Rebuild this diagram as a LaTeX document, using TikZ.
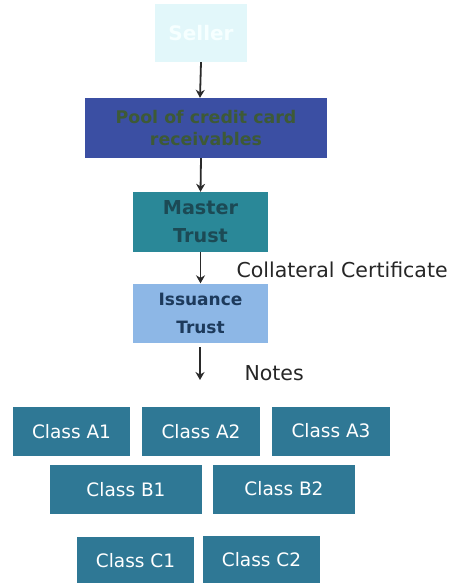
\documentclass[tikz,border=0pt]{standalone}
\usepackage{fontspec}
\setmainfont{DejaVu Sans}
\usetikzlibrary{arrows.meta}
\definecolor{sellerfill}{HTML}{E2F7FA}
\definecolor{sellertext}{HTML}{F6FFFF}
\definecolor{poolfill}{HTML}{3B4FA3}
\definecolor{pooltext}{HTML}{3E5A36}
\definecolor{masterfill}{HTML}{2A8898}
\definecolor{mastertext}{HTML}{1C4A55}
\definecolor{issfill}{HTML}{8DB7E6}
\definecolor{isstext}{HTML}{1D3A5C}
\definecolor{classfill}{HTML}{2F7895}
\definecolor{arrowcol}{HTML}{2A2A2A}
\tikzset{
  x=1pt, y=-1pt,
  boxbase/.style={inner sep=0pt, align=center, font=\bfseries},
  classbox/.style={fill=classfill, text=white, inner sep=0pt, font=\fontsize{18.5}{20}\selectfont},
  flow/.style={draw=arrowcol, line width=1.8pt, -{Stealth[length=8pt,width=9pt]}},
  lbl/.style={font=\fontsize{20.5}{22}\selectfont, text=black!85}
}
\begin{document}
\begin{tikzpicture}
\useasboundingbox (0,0) rectangle (449,583);
\fill[white] (0,0) rectangle (449,583);
% boxes
\node[boxbase, fill=sellerfill, text=sellertext, minimum width=92pt, minimum height=58pt, font=\bfseries\fontsize{20}{22}\selectfont] (seller) at (201,33) {Seller};
\node[boxbase, fill=poolfill, text=pooltext, minimum width=242pt, minimum height=60pt, font=\bfseries\fontsize{17.4}{22}\selectfont] (pool) at (206,128) {Pool of credit card\\receivables};
\node[boxbase, fill=masterfill, text=mastertext, minimum width=135pt, minimum height=60pt, font=\bfseries\fontsize{19.2}{28}\selectfont] (master) at (200.5,222) {Master\\Trust};
\node[boxbase, fill=issfill, text=isstext, minimum width=135pt, minimum height=59pt, font=\bfseries\fontsize{17}{28}\selectfont] (iss) at (200.5,313) {Issuance\\Trust};
\coordinate (notesstart) at (200,347);
\coordinate (notesend) at (200,380);
% arrows
\draw[flow] (seller.south) -- ([xshift=-6pt]pool.north);
\draw[flow] ([xshift=-5pt]pool.south) -- (master.north);
\draw[flow] (master.south) -- (iss.north);
\draw[flow] (notesstart) -- (notesend);
% labels
\node[lbl, anchor=west] (coll) at (233,270) {Collateral Certificate};
\node[lbl, anchor=west] (notes) at (241,373) {Notes};
% classes
\node[classbox, minimum width=117pt, minimum height=49pt] (a1) at (71.5,431.5) {Class A1};
\node[classbox, minimum width=118pt, minimum height=49pt] (a2) at (201,431.5) {Class A2};
\node[classbox, minimum width=118pt, minimum height=49pt] (a3) at (331,431) {Class A3};
\node[classbox, minimum width=152pt, minimum height=49pt] (b1) at (126,489.5) {Class B1};
\node[classbox, minimum width=142pt, minimum height=49pt] (b2) at (284,489) {Class B2};
\node[classbox, minimum width=117pt, minimum height=48pt] (c1) at (135.5,561) {Class C1};
\node[classbox, minimum width=117pt, minimum height=48pt] (c2) at (261.5,560) {Class C2};
\end{tikzpicture}
\end{document}
